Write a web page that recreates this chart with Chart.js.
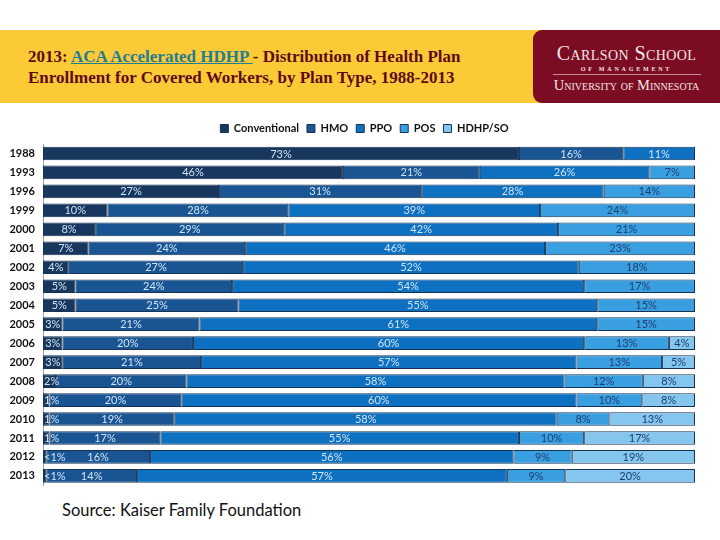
<!DOCTYPE html>
<html>
<head>
<meta charset="utf-8">
<script src="https://cdn.jsdelivr.net/npm/chart.js@4.4.1/dist/chart.umd.min.js"></script>
<style>
  html, body { margin:0; padding:0; width:720px; height:540px; background:#ffffff; overflow:hidden; }
  #banner { position:absolute; left:0; top:30px; width:545px; height:73px; background:#FCC937; }
  #title { position:absolute; left:28px; top:46px; font-family:"Liberation Serif","DejaVu Serif",serif; font-weight:bold; font-size:17px; line-height:21px; color:#5E0B15; white-space:nowrap; }
  #title a { color:#1F7E93; text-decoration:underline; }
  #logo { position:absolute; left:533px; top:30px; width:187px; height:73px; background:#7B0C22; border-radius:9px 0 0 9px; font-family:"Liberation Serif","DejaVu Serif",serif; color:#F3E6E8; }
  #logo .l1 { position:absolute; left:0; width:187px; top:12px; text-align:center; font-size:20px; font-variant:small-caps; letter-spacing:0.4px; }
  #logo .l2 { position:absolute; left:0; width:187px; top:36px; text-align:center; font-size:6px; letter-spacing:2.8px; font-weight:bold; }
  #logo .rule { position:absolute; left:20px; width:148px; top:44px; height:1px; background:#C98B97; }
  #logo .l3 { position:absolute; left:0; width:187px; top:47px; text-align:center; font-size:14.5px; font-variant:small-caps; }
  #wrap { position:absolute; left:0; top:110px; width:720px; height:390px; }
  #source { position:absolute; left:62px; top:500px; font-family:Lato,"Liberation Sans",sans-serif; font-size:16.5px; color:#111; }
</style>
</head>
<body>
<div id="banner"></div>
<div id="title">2013: <a>ACA Accelerated HDHP </a>- Distribution of Health Plan<br>Enrollment for Covered Workers, by Plan Type, 1988-2013</div>
<div id="logo">
  <div class="l1">Carlson School</div>
  <div class="l2">OF MANAGEMENT</div>
  <div class="rule"></div>
  <div class="l3">University of Minnesota</div>
</div>
<div id="wrap"><canvas id="c"></canvas></div>
<div id="source">Source: Kaiser Family Foundation</div>
<script>
// ---- data ----
const years = ['1988','1993','1996','1999','2000','2001','2002','2003','2004','2005','2006','2007','2008','2009','2010','2011','2012','2013'];
const seriesNames = ['Conventional','HMO','PPO','POS','HDHP/SO'];
const conventional = [73,46,27,10,8,7,4,5,5,3,3,3,2,1,1,1,0.5,0.5];
const hmo          = [16,21,31,28,29,24,27,24,25,21,20,21,20,20,19,17,16,14];
const ppo          = [11,26,28,39,42,46,52,54,55,61,60,57,58,60,58,55,56,57];
const pos          = [null,7,14,24,21,23,18,17,15,15,13,13,12,10,8,10,9,9];
const hdhp         = [null,null,null,null,null,null,null,null,null,null,4,5,8,8,13,17,19,20];

const colors     = ['#17375E','#1A5593','#0E70C0','#3A9FE0','#84C6EE'];
const labelColor = ['#CFE4F7','#CFE4F7','#CFE4F7','#1E3F6E','#1E3F6E'];
const raw = [conventional, hmo, ppo, pos, hdhp];

// 100% stacked: share of each row total
const totals = years.map((_, i) => raw.reduce((s, arr) => s + (arr[i] || 0), 0));
const datasets = raw.map((arr, k) => ({
  label: seriesNames[k],
  data: arr.map((v, i) => v == null ? null : v / totals[i] * 100),
  rawValues: arr,
  backgroundColor: colors[k],
  borderColor: '#163356',
  borderWidth: 1,
  borderSkipped: false,
  categoryPercentage: 1,
  barPercentage: 0.72
}));

const fmt = v => v < 1 ? '<1%' : Math.round(v) + '%';

const labelPlugin = {
  id: 'segLabels',
  afterLayout(chart) {
    // centre the legend like the original (slightly right of canvas centre)
    const lg = chart.legend;
    if (lg) { lg.left += 17; lg.right += 17; }
  },
  afterDatasetsDraw(chart) {
    const ctx = chart.ctx;
    const left = chart.chartArea.left;
    ctx.save();
    ctx.font = '11px Lato, "Liberation Sans", sans-serif';
    ctx.textBaseline = 'middle';
    chart.data.datasets.forEach((ds, k) => {
      const meta = chart.getDatasetMeta(k);
      meta.data.forEach((bar, i) => {
        const v = ds.rawValues[i];
        if (v == null) return;
        const txt = fmt(v);
        const w = ctx.measureText(txt).width;
        let cx = (bar.x + bar.base) / 2;
        let x = cx - w / 2;
        if (x < left + 1) x = left + 1;
        ctx.fillStyle = labelColor[k];
        ctx.textAlign = 'left';
        ctx.fillText(txt, x, bar.y + 0.5);
      });
    });
    ctx.restore();
  }
};

new Chart(document.getElementById('c'), {
  type: 'bar',
  data: { labels: years, datasets },
  options: {
    indexAxis: 'y',
    responsive: true,
    maintainAspectRatio: false,
    animation: false,
    layout: { padding: { left: 0, right: 25, top: 5, bottom: 14 } },
    plugins: {
      legend: {
        display: true,
        position: 'top',
        labels: {
          boxWidth: 8, boxHeight: 8, padding: 8,
          color: '#111',
          font: { family: 'Lato, "Liberation Sans", sans-serif', size: 11, weight: 'bold' }
        }
      },
      tooltip: { enabled: false }
    },
    scales: {
      x: { stacked: true, min: 0, max: 100, display: false },
      y: {
        stacked: true,
        afterFit: s => { s.width = 43; },
        grid: { display: false, drawTicks: false },
        border: { display: true, color: '#A0A0A0', width: 1 },
        ticks: { color: '#111', padding: 8, font: { family: 'Lato, "Liberation Sans", sans-serif', size: 11, weight: 'bold' } }
      }
    }
  },
  plugins: [labelPlugin]
});
</script>
</body>
</html>
